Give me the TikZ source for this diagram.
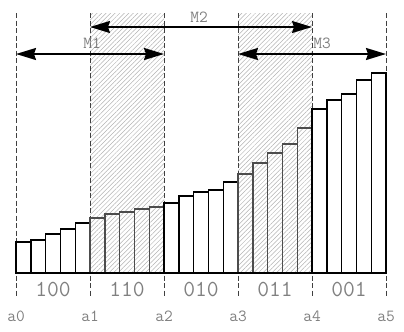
\documentclass[tikz,border=0pt]{standalone}
\usepackage{fontspec}
\usetikzlibrary{arrows.meta,patterns.meta}
\tikzset{
  hatchzone/.style={pattern={Lines[angle=45,distance=3.2bp,line width=0.5bp]},pattern color=black!30},
  guide/.style={draw=black!75,line width=0.6bp,dash pattern=on 5bp off 2.5bp},
  bar/.style={draw=black,line width=1.4bp},
  hbar/.style={draw=black!70,line width=1.4bp},
  base/.style={draw=black,line width=2bp},
  span/.style={draw=black,line width=1.8bp,{Stealth[length=20bp,width=12bp,inset=2bp]}-{Stealth[length=20bp,width=12bp,inset=2bp]}},
  codelbl/.style={font=\ttfamily\fontsize{23}{23}\selectfont,text=black!50,inner sep=0pt},
  alabel/.style={font=\ttfamily\fontsize{17}{17}\selectfont,text=black!50,inner sep=0pt},
  mlabel/.style={font=\ttfamily\fontsize{17}{17}\selectfont,text=black!50,inner sep=0pt}
}
\begin{document}
\begin{tikzpicture}[x=1bp,y=-1bp]
\useasboundingbox (0,0) rectangle (404,332);
% hatched zones
\fill[hatchzone] (90,13) rectangle (164,273);
\fill[hatchzone] (238,13) rectangle (312,273);
% dashed guides
\foreach \i in {0,...,5}{
  \draw[guide] ({16+74*\i},13) -- ({16+74*\i},298);
}
% bars
\foreach \h [count=\k from 0] in {242,240,234,229,223,218,214,212,209,207,203,196,192,190,182,174,163,153,144,128,109,100,94,80,73}{
  \pgfmathtruncatemacro{\seg}{int(\k/5)}
  \ifnum\seg=1 \def\bs{hbar}\else\ifnum\seg=3 \def\bs{hbar}\else\def\bs{bar}\fi\fi
  \draw[\bs] ({16+14.8*\k},273) rectangle ({16+14.8*(\k+1)},\h);
}
\draw[base] (16,273) -- (386,273);
% span arrows
\coordinate (m1s) at (16,54);
\coordinate (m1e) at (164,54);
\coordinate (m2s) at (90,27);
\coordinate (m2e) at (312,27);
\coordinate (m3s) at (238,54);
\coordinate (m3e) at (386,54);
\draw[span] (m1s) -- (m1e);
\draw[span] (m2s) -- (m2e);
\draw[span] (m3s) -- (m3e);
\node[mlabel] (M1) at (92,43) {M1};
\node[mlabel] (M2) at (199,17) {M2};
\node[mlabel] (M3) at (322,43) {M3};
% code labels
\node[codelbl] (c1) at (53,289) {100};
\node[codelbl] (c2) at (127,289) {110};
\node[codelbl] (c3) at (201,289) {010};
\node[codelbl] (c4) at (275,289) {011};
\node[codelbl] (c5) at (349,289) {001};
% a labels
\node[alabel] (a0) at (16,316) {a0};
\node[alabel] (a1) at (90,316) {a1};
\node[alabel] (a2) at (164,316) {a2};
\node[alabel] (a3) at (238,316) {a3};
\node[alabel] (a4) at (312,316) {a4};
\node[alabel] (a5) at (386,316) {a5};
\end{tikzpicture}
\end{document}
